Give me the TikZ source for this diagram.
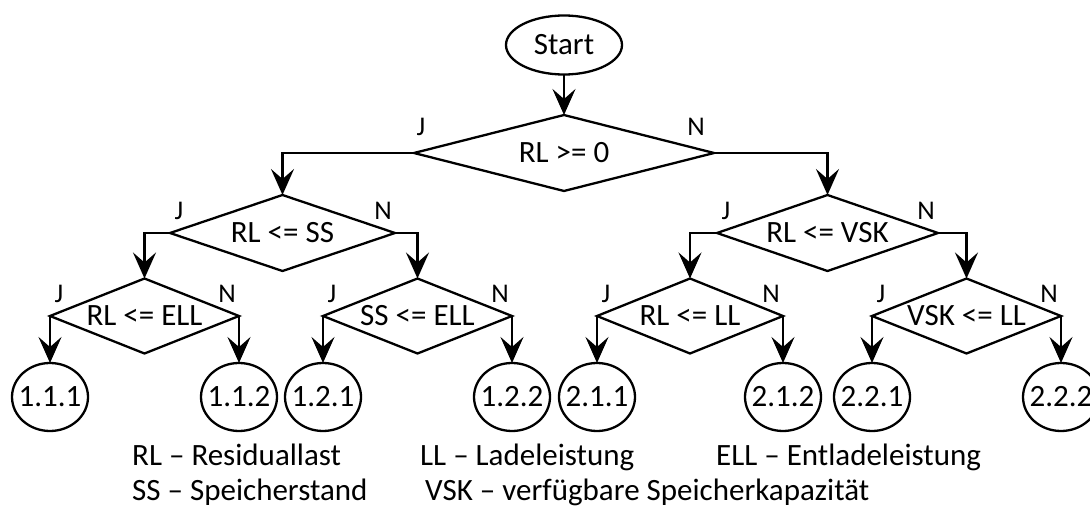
\documentclass[tikz,border=0pt]{standalone}
\usepackage{fontspec}
\setmainfont{Carlito}
\usetikzlibrary{shapes.geometric,arrows.meta}
% zero-width box so the text does not enlarge its shape
\newcommand\ctrtxt[1]{\makebox[0pt]{#1}}
\begin{document}
\begin{tikzpicture}[x=1pt,y=-1pt,
  every node/.style={font=\fontsize{31}{37}\selectfont},
  flow/.style={line width=2.3pt, -{Stealth[length=26pt,width=23pt,inset=10pt]}},
  decision/.style={draw, line width=2.3pt, shape=diamond, inner sep=0pt, outer sep=0pt},
  terminal/.style={draw, line width=2.3pt, ellipse, inner sep=0pt, outer sep=0pt,
                   minimum width=116pt, minimum height=59pt},
  leaf/.style={draw, line width=2.3pt, ellipse, inner sep=0pt, outer sep=0pt,
               minimum width=76pt, minimum height=68pt},
  lbl/.style={font=\fontsize{27}{31}\selectfont, inner sep=0pt},
  legend/.style={anchor=base west, inner sep=0pt}]

\useasboundingbox (0,0) rectangle (1090,508);

% start and decisions
\node[terminal] (start) at (564,45) {\ctrtxt{Start}};
\node[decision, minimum width=300pt, minimum height=76pt] (d1) at (564,153) {\ctrtxt{RL >= 0}};
\node[decision, minimum width=225pt, minimum height=76pt] (d2) at (282.5,233) {\ctrtxt{RL <= SS}};
\node[decision, minimum width=221pt, minimum height=76pt] (d5) at (827.5,233) {\ctrtxt{RL <= VSK}};
\node[decision, minimum width=189pt, minimum height=75pt] (d3) at (144.5,316) {\ctrtxt{RL <= ELL}};
\node[decision, minimum width=189pt, minimum height=75pt] (d4) at (417.5,316) {\ctrtxt{SS <= ELL}};
\node[decision, minimum width=186pt, minimum height=75pt] (d6) at (690,316) {\ctrtxt{RL <= LL}};
\node[decision, minimum width=189pt, minimum height=75pt] (d7) at (966.5,316) {\ctrtxt{VSK <= LL}};

% result states
\coordinate (leafrow) at (0,397);
\node[leaf] (l111) at (d3.west |- leafrow) {\ctrtxt{1.1.1}};
\node[leaf] (l112) at (d3.east |- leafrow) {\ctrtxt{1.1.2}};
\node[leaf] (l121) at (d4.west |- leafrow) {\ctrtxt{1.2.1}};
\node[leaf] (l122) at (d4.east |- leafrow) {\ctrtxt{1.2.2}};
\node[leaf] (l211) at (d6.west |- leafrow) {\ctrtxt{2.1.1}};
\node[leaf] (l212) at (d6.east |- leafrow) {\ctrtxt{2.1.2}};
\node[leaf] (l221) at (d7.west |- leafrow) {\ctrtxt{2.2.1}};
\node[leaf] (l222) at (d7.east |- leafrow) {\ctrtxt{2.2.2}};

% connectors
\draw[flow] (start.south) -- (d1.north);
\draw[flow] (d1.west) -| (d2.north);
\draw[flow] (d1.east) -| (d5.north);
\draw[flow] (d2.west) -| (d3.north);
\draw[flow] (d2.east) -| (d4.north);
\draw[flow] (d5.west) -| (d6.north);
\draw[flow] (d5.east) -| (d7.north);
\draw[flow] (d3.west) -- (l111.north);
\draw[flow] (d3.east) -- (l112.north);
\draw[flow] (d4.west) -- (l121.north);
\draw[flow] (d4.east) -- (l122.north);
\draw[flow] (d6.west) -- (l211.north);
\draw[flow] (d6.east) -- (l212.north);
\draw[flow] (d7.west) -- (l221.north);
\draw[flow] (d7.east) -- (l222.north);

% yes / no branch labels
\node[lbl] (j1) at ([shift={(7,-26)}]d1.west) {J};
\node[lbl] (n1) at ([shift={(-18,-26)}]d1.east) {N};
\foreach \d in {d2,d3,d4,d5,d6,d7}{
  \node[lbl] (j\d) at ([shift={(9,-22)}]\d.west) {J};
  \node[lbl] (n\d) at ([shift={(-12,-22)}]\d.east) {N};
}

% abbreviations
\node[legend] (k1) at (132,465) {RL – Residuallast};
\node[legend] (k2) at (420,465) {LL – Ladeleistung};
\node[legend] (k3) at (716,465) {ELL – Entladeleistung};
\node[legend] (k4) at (132,500) {SS – Speicherstand};
\node[legend] (k5) at (425,500) {VSK – verfügbare Speicherkapazität};
\end{tikzpicture}
\end{document}
